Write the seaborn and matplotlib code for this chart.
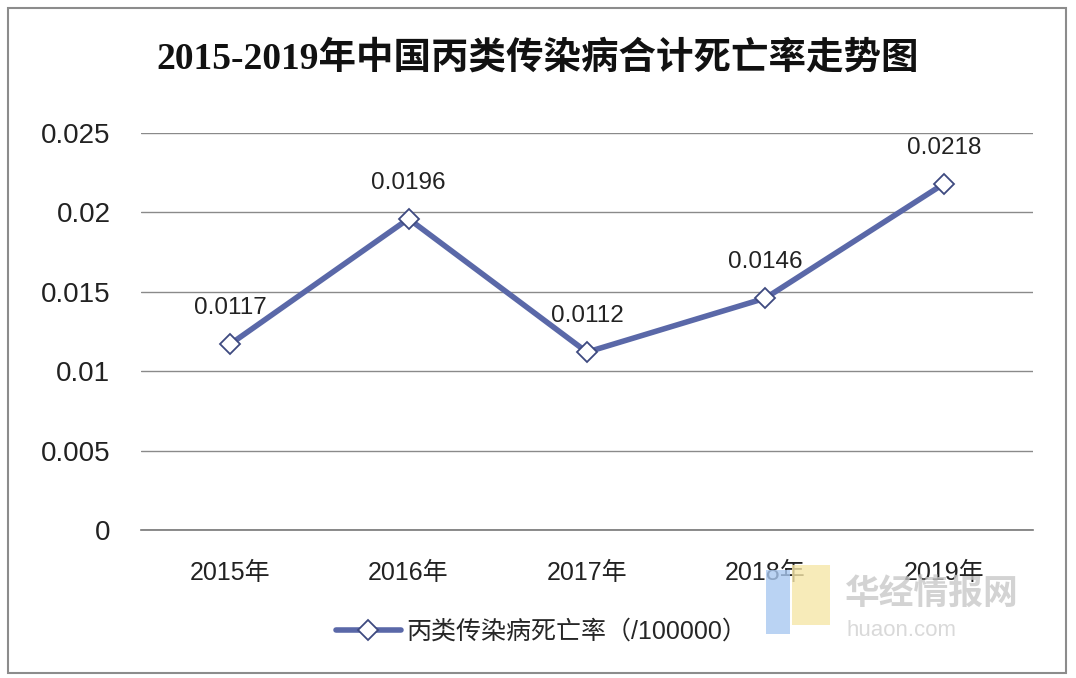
import numpy as np
import pandas as pd
import seaborn as sns
import matplotlib.pyplot as plt
from matplotlib.patches import Rectangle
from matplotlib.lines import Line2D

# Data
years = ['2015年', '2016年', '2017年', '2018年', '2019年']
death_rate = [0.0117, 0.0196, 0.0112, 0.0146, 0.0218]
series_name = '丙类传染病死亡率（/100000）'
title = '2015-2019年中国丙类传染病合计死亡率走势图'

data = pd.DataFrame({'year': years, 'rate': death_rate})
data['pos'] = np.arange(len(years))

sns.set_style('white')
plt.rcParams['font.family'] = ['Liberation Sans', 'Noto Sans CJK SC', 'DejaVu Sans']

line_color = '#5a68a8'

fig = plt.figure(figsize=(10.76, 6.78), dpi=100)
fig.patch.set_facecolor('white')

# outer frame
fig.patches.append(Rectangle((0.007, 0.008), 0.984, 0.98, transform=fig.transFigure,
                             fill=False, edgecolor='#8c8c8c', linewidth=1.5))

ax = fig.add_axes([0.131, 0.2183, 0.829, 0.5855])

sns.lineplot(data=data, x='pos', y='rate', ax=ax, color=line_color, linewidth=4,
             marker='D', markersize=10, markerfacecolor='white',
             markeredgecolor='#3e4a80', markeredgewidth=1.3)

for x, y in zip(data['pos'], data['rate']):
    ax.annotate(f'{y:.4f}', (x, y), xytext=(0, 18), textcoords='offset points',
                ha='center', va='bottom', fontsize=17.5, color='#222222')

ax.set_xlim(-0.5, len(years) - 0.5)
ax.set_ylim(0, 0.025)
ax.set_yticks(np.arange(0, 0.0251, 0.005))
ax.set_yticklabels(['0', '0.005', '0.01', '0.015', '0.02', '0.025'])
ax.set_xticks(data['pos'])
ax.set_xticklabels(years)
ax.set_xticks(np.arange(-0.5, len(years), 1), minor=True)
ax.tick_params(axis='x', which='major', length=0, pad=22, labelsize=18, colors='#222222')
ax.tick_params(axis='x', which='minor', length=8, width=1.2, color='#777777', direction='out')
ax.tick_params(axis='y', length=0, pad=22, labelsize=20, colors='#222222')
ax.grid(axis='y', color='#8a8a8a', linewidth=1)
ax.set_axisbelow(True)
ax.set_xlabel('')
ax.set_ylabel('')
for side in ['top', 'right', 'left']:
    ax.spines[side].set_visible(False)
ax.spines['bottom'].set_color('#777777')
ax.spines['bottom'].set_linewidth(1.2)

fig.text(0.5, 0.913, title, ha='center', va='center', fontsize=27, fontweight='bold',
         family=['Liberation Serif', 'Noto Sans CJK SC'], color='#111111')

handle = Line2D([], [], color=line_color, linewidth=4, marker='D', markersize=10,
                markerfacecolor='white', markeredgecolor='#3e4a80', markeredgewidth=1.3)
fig.legend([handle], [series_name], loc='center', bbox_to_anchor=(0.503, 0.068),
           frameon=False, fontsize=18, handlelength=2.6, handletextpad=0.2)

# watermark
fig.text(0.785, 0.125, '华经情报网', fontsize=25, fontweight='bold', color='#c8c8c8',
         family=['Noto Sans CJK SC'], va='center', alpha=0.8)
fig.text(0.787, 0.07, 'huaon.com', fontsize=16, color='#d0d0d0', va='center', alpha=0.8)
fig.patches.append(Rectangle((0.712, 0.065), 0.022, 0.095, transform=fig.transFigure,
                             facecolor='#a9c8f0', edgecolor='none', alpha=0.8))
fig.patches.append(Rectangle((0.736, 0.078), 0.035, 0.088, transform=fig.transFigure,
                             facecolor='#f6e6a8', edgecolor='none', alpha=0.8))

fig.savefig('out.png', dpi=100)
